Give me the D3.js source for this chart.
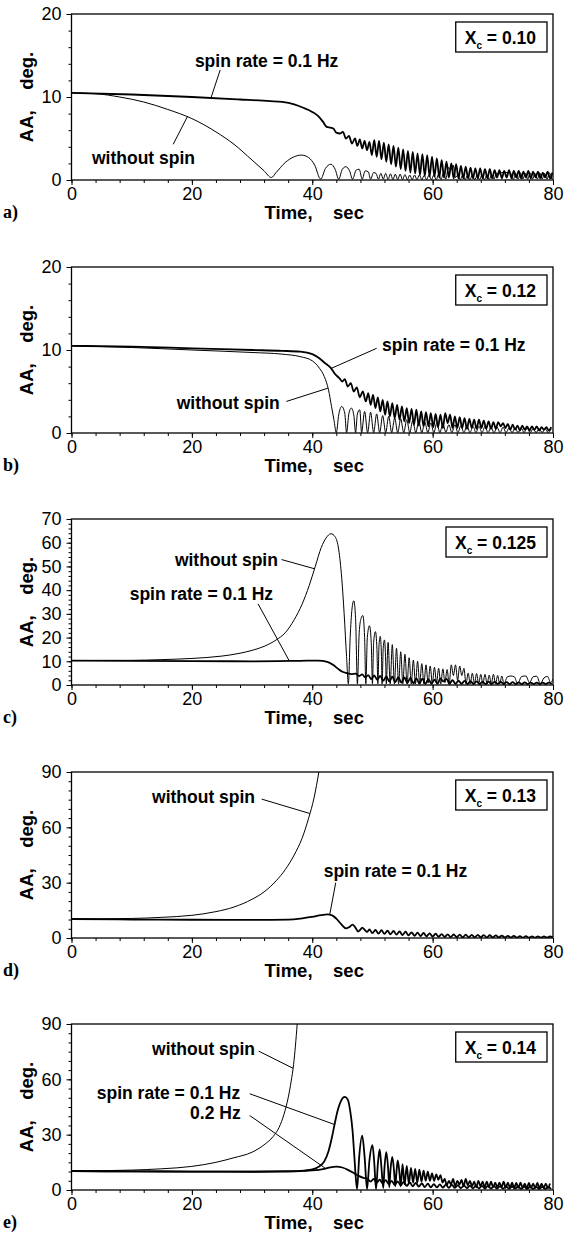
<!DOCTYPE html>
<html lang="en">
<head>
<meta charset="UTF-8">
<title>AA vs time, spin</title>
<script src="https://d3js.org/d3.v7.min.js"></script>
<style>
  body { margin:0; background:#fff; }
  svg text { font-family: "Liberation Sans", Arial, sans-serif; fill:#000; }
  .axis path { display:none; }
  .axis line { stroke:#000; stroke-width:1; }
  .axis text { font-size:18px; font-family:"Liberation Sans", Arial, sans-serif; }
  .note { font-size:17.5px; font-weight:bold; }
  .title { font-size:18.5px; font-weight:bold; white-space:pre; }
  .plab { font-family:"Liberation Serif","Times New Roman",serif; font-weight:bold; font-size:18px; }
</style>
</head>
<body>
<script>
// tick labels
var xTickVals = [0, 20, 40, 60, 80];
var yTicksA = [0, 10, 20];
var yTicksC = [0, 10, 20, 30, 40, 50, 60, 70];
var yTicksD = [0, 30, 60, 90];

// ---- panel a: Xc = 0.10 ----
var aNo = [[0,10.5],[4,10.4],[8,10.0],[12,9.4],[16,8.5],[20,7.4],[24,5.8],[27,4.3],[30,2.4],[32,1.1],[33.2,0.3],[34,0.9],[35.5,2.1],[37,2.8],[38.2,3.0],[39.4,2.7],[40.4,1.8],[41.4,0.1],[42.2,1.4],[43.1,1.9],[43.8,1.3],[44.4,0.1],[45.0,1.3],[45.6,1.6],[46.2,1.1],[46.7,0.1],[47.3,1.2],[47.8,1.3],[48.3,0.1],[48.8,1.1],[49.3,1.0],[49.7,0.1],[50.2,0.9],[50.6,0.8],[51.0,0.1],[51.4,0.8],[51.8,0.1]];
var aNoOsc = {t0:52.2, dt:0.4, v:[0.8,0.05,0.75,0.05,0.7,0.05,0.7,0.05,0.65,0.05,0.6,0.05,0.6,0.05,0.6,0.05,0.55,0.05,0.6,0.05,0.6,0.05,0.7,0.05,0.9,0.1,1.5,1.2,1.8,0.3,0.6,0.05,0.6,0.05,0.55,0.05,0.6,0.05,0.55,0.05,0.6,0.05,0.55,0.05,0.6,0.1,0.8,0.7,0.9,0.9,0.9,0.9,0.8,0.05,0.8,0.1,0.85,0.1,0.8,0.1,0.85,0.1,0.8,0.1,0.85,0.1,0.8,0.1,0.85,0.1]};
var aSpin = [[0,10.5],[10,10.3],[20,10.0],[28,9.7],[33,9.5],[35,9.4],[37,9.1],[38.5,8.7],[40,8.2],[41,7.7],[41.8,7.0],[42.4,6.4],[43.0,6.3],[43.5,6.2],[44.0,5.7],[44.6,5.6],[45.1,5.8],[45.6,5.0],[46.1,5.3],[46.6,4.4],[47.1,5.0],[47.5,4.1],[47.9,4.9],[48.3,3.8],[48.7,4.7],[49.1,3.6],[49.5,4.6]];
var aSpinOsc = {t0:49.9, dt:0.4, v:[3.0,4.8,2.8,4.7,2.5,4.5,2.2,4.3,1.9,4.1,1.6,3.9,1.3,3.7,1.1,3.5,0.9,3.4,0.8,3.2,0.6,3.1,0.5,3.0,0.4,2.8,0.4,2.6,0.3,2.4,0.3,2.2,0.3,2.0,0.2,1.9,0.2,1.7,0.2,1.6,0.2,1.5,0.2,1.4,0.2,1.4,0.2,1.3,0.2,1.3,0.2,1.2,0.3,1.2,0.2,1.1,0.3,1.2,0.2,1.1,0.3,1.1,0.2,1.0,0.3,1.1,0.2,1.0,0.3,1.0,0.2,0.9,0.3,1.0,0.2,0.9]};

// ---- panel b: Xc = 0.12 ----
var bNo = [[0,10.5],[10,10.3],[20,10.0],[30,9.7],[35,9.5],[38,9.2],[40,8.7],[41.2,7.8],[42,6.8],[42.7,5.2],[43.2,3.2],[43.6,1.6],[44,0.05],[44.4,2.2],[44.9,3.2],[45.4,2.4],[45.7,0.05],[46.1,2.4],[46.5,3.0],[46.9,2.2],[47.2,0.05],[47.5,2.3],[47.9,2.8],[48.2,0.05]];
var bNoOsc = {t0:48.7, dt:0.5, v:[2.6,0.05,2.5,0.05,2.3,0.05,2.1,0.05,2.0,0.05,1.8,0.05,1.7,0.05,1.6,0.05,1.5,0.05,1.4,0.05,1.3,0.05,1.2,0.05,1.2,0.05,1.1,0.1,1.0,0.05,1.0,0.05,0.9,0.05,0.9,0.05,0.8,0.05,0.8,0.05,0.8,0.05,0.7,0.05,0.7,0.05,0.7,0.05,0.6,0.05,0.6,0.05,0.6,0.05,0.6,0.05,0.5,0.05,0.5,0.05,0.5,0.05,0.5]};
var bSpin = [[0,10.5],[10,10.4],[20,10.2],[30,10.0],[35,9.9],[38,9.8],[40,9.5],[41,9.1],[42,8.5],[43,7.9],[43.8,7.1],[44.5,6.6],[45,6.2],[45.4,6.5],[45.9,5.6],[46.4,6.0],[46.9,5.0],[47.4,5.5],[47.9,4.3],[48.4,5.0]];
var bSpinOsc = {t0:48.9, dt:0.4, v:[3.8,4.8,3.4,4.6,3.0,4.3,2.6,4.0,2.2,3.8,2.0,3.6,1.8,3.4,1.6,3.2,1.4,3.0,1.2,2.9,1.0,2.8,0.9,2.6,0.8,2.5,0.8,2.4,0.7,2.3,0.7,2.2,0.6,2.4,1.2,2.2,0.6,2.0,0.6,1.9,0.6,1.8,0.5,1.7,0.6,1.6,0.5,1.6,0.6,1.5,0.5,1.4,0.5,1.3,0.5,1.3,0.8,1.2,0.6,1.1,0.4,1.0,0.4,0.9,0.3,0.9,0.4,0.8,0.3,0.8,0.4,0.8,0.3,0.7,0.4,0.7,0.3,0.7]};

// ---- panel c: Xc = 0.125 ----
var cNo = [[0,10.3],[10,10.4],[15,10.7],[20,11.2],[25,12.2],[28,13.4],[30,14.6],[32,16.3],[34,19],[35.5,22],[37,27.5],[38.3,34],[39.5,42],[40.5,50],[41.5,58],[42.3,62],[43.1,63.8],[43.8,62.5],[44.4,57],[44.9,45],[45.3,30],[45.7,12],[46.0,0.5],[46.3,20],[46.6,32],[46.9,35.5],[47.2,28],[47.5,0.5],[47.8,22],[48.1,28],[48.4,29.3],[48.7,20],[48.9,0.5],[49.15,20],[49.5,25],[49.8,18],[50.0,0.5],[50.2,18],[50.5,22.5],[50.75,15],[50.9,0.5],[51.1,17],[51.3,20.5],[51.5,12],[51.6,0.5],[51.8,16],[52.0,19],[52.2,10],[52.3,0.5]];
var cNoOsc = {t0:52.6, dt:0.35, v:[18,0.5,17,0.5,15.5,0.5,14,0.5,13,0.5,11.5,0.5,10.5,0.5,10,0.5,9,0.5,8.5,0.8,8,0.5,7.5,1,7,0.5,6.8,1,6.5,0.5,8.5,4,8.5,2,8,4,7,0.5,5,0.5,5,0.5,4.8,0.5,4.5,0.5,4.5,0.5,4.2,0.5,4.5,0.5,4,0.5,3.8,0.5]};
var cNoTail = [[72.4,3.4],[73.0,3.8],[73.6,3.4],[74.1,0.5],[74.8,3.6],[75.5,3.8],[76.1,1],[76.7,3.5],[77.3,3.7],[77.9,0.5],[78.5,3.0],[79.1,3.6],[79.6,1.0],[80,2.5]];
var cSpin = [[0,10.3],[20,10.1],[30,10.0],[38,10.2],[41,10.3],[42.5,9.8],[43.5,8.4],[44.3,6.8],[45,5.6],[45.8,5.0],[46.5,4.6],[47.2,4.8],[47.8,3.8],[48.3,4.5],[48.8,3.2]];
var cSpinOsc = {t0:49.3, dt:0.5, v:[4.2,2.5,4.0,2.2,3.8,1.8,3.6,1.5,3.5,1.2,3.3,1.0,3.2,0.8,3.0,0.7,2.8,0.6,2.7,0.5,2.5,0.5,2.3,0.5,2.8,1.5,2.6,0.5,2.0,0.5,1.8,0.5,1.7,0.4,1.6,0.4,1.5,0.4,1.4,0.4,1.4,0.4,1.3,0.4,1.3,0.4,1.2,0.4,1.2,0.4,1.1,0.4,1.1,0.4,1.0,0.4,1.0,0.4,1.0,0.4,1.0,0.4]};

// ---- panel d: Xc = 0.13 ----
var dNo = [[0,10.3],[10,10.6],[15,11.2],[20,12.3],[24,14.3],[27,16.8],[30,21],[32,25],[34,31],[35.5,37],[37,45],[38.3,54],[39.4,65],[40.3,76],[41.1,90],[41.8,104]];
var dSpin = [[0,10.3],[10,10.0],[20,9.9],[30,9.8],[36,10.0],[38,10.5],[40,11.5],[41.5,12.4],[42.5,12.8],[43.3,12.3],[44,10.5],[44.8,7.5],[45.6,5.2],[46.1,5.8],[46.7,7.3],[47.2,5.5],[47.6,3.5],[48.0,4.5],[48.3,5.6],[48.7,4.5],[49.1,3.3],[49.5,4.6]];
var dSpinOsc = {t0:50, dt:0.5, v:[2.6,4.4,2.4,4.2,2.2,4.0,2.0,3.8,1.8,3.6,1.6,3.4,1.4,3.1,1.2,2.9,1.0,2.7,0.9,2.5,0.8,2.3,0.7,2.1,0.6,2.0,0.5,1.9,0.5,1.8,0.4,1.8,0.4,1.7,0.4,1.7,0.4,1.6,0.3,1.5,0.3,1.4,0.3,1.3,0.3,1.2,0.3,1.1,0.2,1.0,0.2,1.0,0.2,0.9,0.2,0.9,0.2,0.8,0.2,0.8,0.3]};

// ---- panel e: Xc = 0.14 ----
var eNo = [[0,10.3],[10,10.8],[15,11.5],[20,12.8],[24,15],[27,17.5],[30,20.5],[32,24.5],[33.5,29],[34.5,34],[35.3,41],[36,50],[36.5,59],[36.9,68],[37.2,78],[37.5,90],[37.8,102]];
var eSpin1 = [[0,10.3],[10,10.1],[20,10.0],[30,10.0],[36,10.2],[38,10.4],[40,11.2],[41,12.5],[42,15.5],[42.7,21],[43.3,29],[43.8,37],[44.3,44],[44.8,48.5],[45.4,50.5],[45.9,49],[46.3,43],[46.7,32],[47.0,18],[47.25,6],[47.45,0.5],[47.8,18],[48.3,29.5],[48.7,18],[49.1,0.5],[49.5,16],[50.0,24.3],[50.3,15],[50.6,0.5],[50.9,14],[51.2,22],[51.5,12],[51.8,1],[52.0,12],[52.3,20.5],[52.6,12],[52.8,1.5],[53.0,11],[53.3,18],[53.6,10],[53.8,2],[54.0,10],[54.2,16],[54.5,9],[54.7,2]];
var eSpin1Osc = {t0:55, dt:0.35, v:[14,3,13,3.5,12,4,11.5,4,11,4.5,10.5,5,10,5,9,5,8.5,5.5,8,4,6,2.5,5,3,6,2,5,3,5.5,2,6,2.5,5,2,4.5,1.5,5,2,4.5,1.5,4.5,1.5,4.5,1.5,4,1.5,4,1.5,4.5,1.2,4,1.2,4,1.2,3.8,1.2,4,1.2,3.5,1,3.8,1,3.5,1,3.8,1,3.5,1,3.5,1,3.5]};
var eSpin2 = [[0,10.3],[10,10.1],[20,10.0],[30,9.9],[36,10.0],[40,10.6],[42,11.5],[43,12.3],[44,12.7],[45,12.2],[46,10.8],[47,9.0],[47.8,7.5],[48.5,6.6],[49.2,6.0]];
var eSpin2Osc = {t0:49.7, dt:0.5, v:[4.5,6.0,4.0,5.6,3.6,5.3,3.2,5.0,2.8,4.7,2.5,4.4,2.2,4.1,2.0,3.9,1.8,3.6,1.6,3.4,1.5,3.2,1.4,3.0,1.3,2.9,1.2,2.8,1.1,2.6,1.0,2.5,1.0,2.4,0.9,2.3,0.9,2.2,0.8,2.2,0.8,2.1,0.8,2.0,0.7,2.0,0.7,1.9,0.7,1.9,0.6,1.8,0.6,1.8,0.6,1.7,0.6,1.7,0.6,1.6,0.6]};

// layout
var W = 567, H = 1233;
var plotL = 71.5, plotR = 553, plotH = 166;
var plotTops = [14, 267, 519, 772, 1024];
var thin = 1, thick = 1.8;

var panels = [
  {tag:"a)", xc:"0.10", yMax:20, ticks:yTicksA, minor:2,
   curves:[[aNo, aNoOsc, null, thin], [aSpin, aSpinOsc, null, thick]],
   notes:[{text:"spin rate = 0.1 Hz", t:20.5, v:13.6, anchor:"start", from:[24.7,13.25], to:[23.2,9.95]},
          {text:"without spin", t:3.4, v:1.9, anchor:"start", from:[16.9,4.3], to:[19.3,7.7]}]},
  {tag:"b)", xc:"0.12", yMax:20, ticks:yTicksA, minor:2,
   curves:[[bNo, bNoOsc, null, thin], [bSpin, bSpinOsc, null, thick]],
   notes:[{text:"spin rate = 0.1 Hz", t:51.6, v:9.9, anchor:"start", from:[50.7,10.2], to:[43.2,7.8]},
          {text:"without spin", t:34.6, v:2.9, anchor:"end", from:[35.7,3.8], to:[42.6,5.4]}]},
  {tag:"c)", xc:"0.125", yMax:70, ticks:yTicksC, minor:2,
   curves:[[cNo, cNoOsc, cNoTail, thin], [cSpin, cSpinOsc, null, thick]],
   notes:[{text:"without spin", t:34.3, v:50, anchor:"end", from:[34.9,52.9], to:[40.4,49]},
          {text:"spin rate = 0.1 Hz", t:33.5, v:36, anchor:"end", from:[31.0,34.2], to:[36.2,10.1]}]},
  {tag:"d)", xc:"0.13", yMax:90, ticks:yTicksD, minor:5,
   curves:[[dNo, null, null, thin], [dSpin, dSpinOsc, null, thick]],
   notes:[{text:"without spin", t:30.5, v:73, anchor:"end", from:[31.6,75.3], to:[39.6,67.5]},
          {text:"spin rate = 0.1 Hz", t:41.9, v:32.9, anchor:"start", from:[43.9,30], to:[42.9,12.6]}]},
  {tag:"e)", xc:"0.14", yMax:90, ticks:yTicksD, minor:5,
   curves:[[eNo, null, null, thin], [eSpin1, eSpin1Osc, null, thick], [eSpin2, eSpin2Osc, null, thick]],
   notes:[{text:"without spin", t:30.5, v:73.1, anchor:"end", from:[31.1,75.3], to:[36.8,66]},
          {text:"spin rate = 0.1 Hz", t:4.2, v:49.1, anchor:"start", from:[29.6,52.2], to:[43.7,35.5]},
          {text:"0.2 Hz", t:19.7, v:38.7, anchor:"start", from:[29.6,40.4], to:[42.2,11.7]}]}
];

function series(pts, osc, tail) {
  var out = pts.map(function(p){ return {t:p[0], v:p[1]}; });
  if (osc) osc.v.forEach(function(v, i){ out.push({t: osc.t0 + i*osc.dt, v: v}); });
  if (tail) tail.forEach(function(p){ out.push({t:p[0], v:p[1]}); });
  return out;
}

var svg = d3.select("body").append("svg")
  .attr("width", W).attr("height", H);
svg.append("rect").attr("width", W).attr("height", H).attr("fill", "#fff");

var x = d3.scaleLinear().domain([0, 80]).range([plotL, plotR]);

panels.forEach(function(p, k) {
  var top = plotTops[k], bot = top + plotH;
  var y = d3.scaleLinear().domain([0, p.yMax]).range([bot, top]);
  var g = svg.append("g");

  // minor ticks
  g.append("g").attr("class", "axis").attr("transform", "translate(0," + bot + ")")
    .call(d3.axisBottom(x).tickValues(d3.range(0, 81, 4)).tickSize(3).tickFormat(""));
  g.append("g").attr("class", "axis").attr("transform", "translate(" + plotL + ",0)")
    .call(d3.axisLeft(y).tickValues(d3.range(0, p.yMax + 0.01, p.minor)).tickSize(3).tickFormat(""));
  // major ticks + labels
  g.append("g").attr("class", "axis").attr("transform", "translate(0," + bot + ")")
    .call(d3.axisBottom(x).tickValues(xTickVals).tickSize(5).tickPadding(2));
  g.append("g").attr("class", "axis").attr("transform", "translate(" + plotL + ",0)")
    .call(d3.axisLeft(y).tickValues(p.ticks).tickSize(5).tickPadding(5));

  // clip
  var cid = "clip" + k;
  svg.append("clipPath").attr("id", cid).append("rect")
    .attr("x", plotL).attr("y", top).attr("width", plotR - plotL).attr("height", plotH);

  var line = d3.line().x(function(d){ return x(d.t); }).y(function(d){ return y(d.v); })
    .curve(d3.curveMonotoneX);

  g.append("g").attr("clip-path", "url(#" + cid + ")")
    .selectAll("path").data(p.curves).enter().append("path")
    .attr("d", function(c){ return line(series(c[0], c[1], c[2])); })
    .attr("fill", "none").attr("stroke", "#000")
    .attr("stroke-width", function(c){ return c[3]; })
    .attr("stroke-linejoin", "round");

  // frame
  g.append("rect").attr("x", plotL).attr("y", top)
    .attr("width", plotR - plotL).attr("height", plotH)
    .attr("fill", "none").attr("stroke", "#000").attr("stroke-width", 1.3);

  // annotations with leader lines
  p.notes.forEach(function(n) {
    g.append("line")
      .attr("x1", x(n.from[0])).attr("y1", y(n.from[1]))
      .attr("x2", x(n.to[0])).attr("y2", y(n.to[1]))
      .attr("stroke", "#000").attr("stroke-width", 1);
    g.append("text").attr("class", "note")
      .attr("x", x(n.t)).attr("y", y(n.v))
      .attr("text-anchor", n.anchor).text(n.text);
  });

  // Xc box
  var bt = g.append("text").attr("class", "note")
    .attr("x", plotR - 17).attr("y", top + 29.5).attr("text-anchor", "end");
  bt.append("tspan").text("X");
  bt.append("tspan").attr("font-size", 10).attr("dy", 5).text("c");
  bt.append("tspan").attr("dy", -5).text(" = " + p.xc);
  var bb = bt.node().getBBox();
  g.insert("rect", function(){ return bt.node(); })
    .attr("x", bb.x - 9).attr("y", top + 8)
    .attr("width", (plotR - 6) - (bb.x - 9)).attr("height", 30)
    .attr("fill", "#fff").attr("stroke", "#000").attr("stroke-width", 1.3);

  // axis titles
  g.append("text").attr("class", "title")
    .attr("transform", "translate(33," + (top + plotH / 2) + ") rotate(-90)")
    .attr("text-anchor", "middle")
    .text("AA,    deg.");
  g.append("text").attr("class", "title")
    .attr("x", x(40) + 2).attr("y", bot + 39).attr("text-anchor", "middle")
    .text("Time,    sec");

  // panel tag
  g.append("text").attr("class", "plab").attr("x", 3).attr("y", bot + 38).text(p.tag);
});
</script>
</body>
</html>
